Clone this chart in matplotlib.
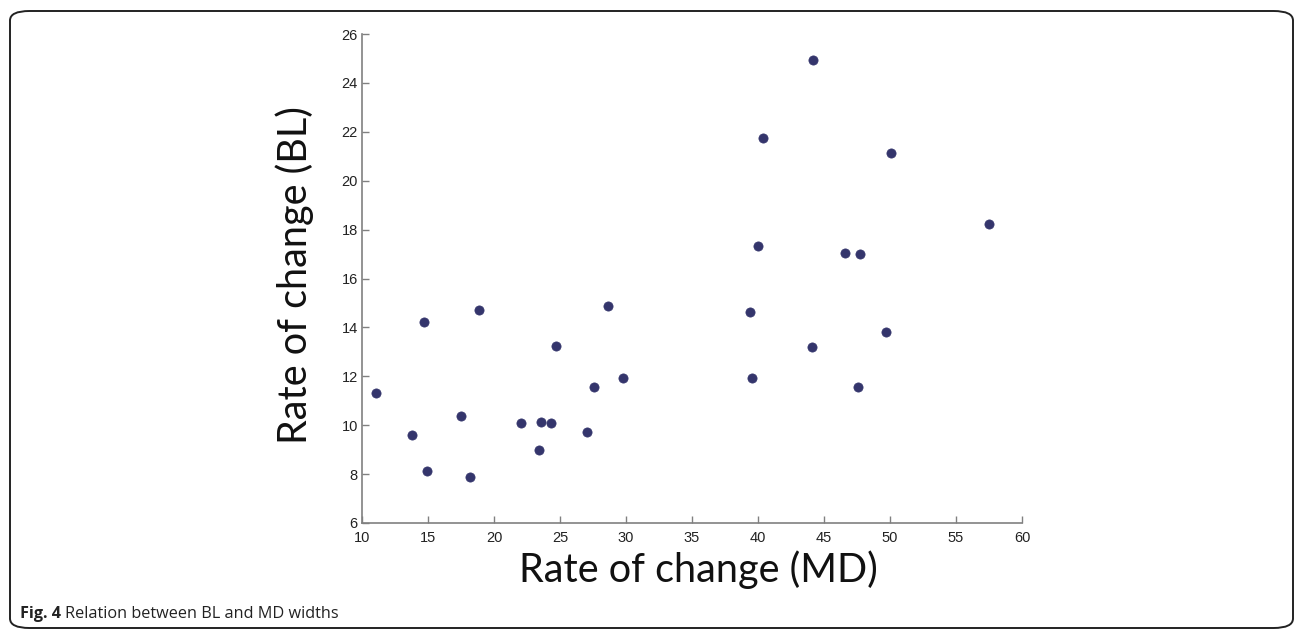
import matplotlib
matplotlib.use("Agg")
import matplotlib.pyplot as plt
from matplotlib.patches import FancyBboxPatch

# Data
md_rate = [11.06, 14.72, 18.89, 24.70, 28.64, 29.80, 27.58, 17.50, 13.81, 22.05,
           23.56, 24.32, 27.07, 23.41, 14.90, 18.16,
           44.14, 40.36, 50.10, 57.47, 40.00, 46.62, 47.76, 39.42, 44.12, 49.70,
           39.52, 47.55]
bl_rate = [11.32, 14.21, 14.71, 13.25, 14.89, 11.93, 11.56, 10.39, 9.60, 10.08,
           10.12, 10.10, 9.71, 8.99, 8.12, 7.90,
           24.95, 21.75, 21.15, 18.22, 17.32, 17.04, 17.01, 14.64, 13.20, 13.80,
           11.94, 11.56]
x_ticks = [10, 15, 20, 25, 30, 35, 40, 45, 50, 55, 60]
y_ticks = [6, 8, 10, 12, 14, 16, 18, 20, 22, 24, 26]

W, H = 1296, 634
fig = plt.figure(figsize=(W / 100, H / 100), dpi=100)
fig.patch.set_facecolor("white")

# Rounded border
border = FancyBboxPatch((10 / W, 6 / H), 1283 / W, 617 / H,
                        boxstyle="round,pad=0,rounding_size=0.015",
                        transform=fig.transFigure, fill=False,
                        edgecolor="#222222", linewidth=1.4)
fig.patches.append(border)

ax = fig.add_axes([362 / W, 1 - 523 / H, (1022 - 362) / W, (523 - 34) / H])
ax.scatter(md_rate, bl_rate, s=44, color="#34356c", edgecolors="#34356c",
           linewidths=0.5, zorder=3)
ax.set_xlim(10, 60)
ax.set_ylim(6, 26)
ax.set_xticks(x_ticks)
ax.set_yticks(y_ticks)
ax.set_xticklabels([str(t) for t in x_ticks], fontfamily="Liberation Sans", fontsize=10.5, color="#222222")
ax.set_yticklabels([str(t) for t in y_ticks], fontfamily="Liberation Sans", fontsize=10.5, color="#222222")
for s in ["top", "right"]:
    ax.spines[s].set_visible(False)
for s in ["left", "bottom"]:
    ax.spines[s].set_color("#808080")
    ax.spines[s].set_linewidth(1.2)
ax.tick_params(direction="in", length=5, width=1, color="#808080")
ax.tick_params(axis="x", pad=6)
ax.tick_params(axis="y", pad=3)

ax.set_xlabel("Rate of change (MD)", fontfamily="Lato", fontsize=28.5, color="#111111")
ax.xaxis.set_label_coords(0.51, -0.056)
ax.set_ylabel("Rate of change (BL)", fontfamily="Lato", fontsize=28.5, color="#111111")
ax.yaxis.set_label_coords(-0.072, 0.507)

# Caption
renderer = fig.canvas.get_renderer()
t1 = fig.text(20 / W, 1 - 618 / H, "Fig. 4", fontfamily="Open Sans", fontweight="bold",
              fontsize=11.7, color="#222222", va="baseline")
bb = t1.get_window_extent(renderer=renderer)
fig.text((bb.x1 + 4) / W, 1 - 618 / H, "Relation between BL and MD widths",
         fontfamily="Open Sans", fontsize=11.7, color="#222222", va="baseline")

fig.savefig("out.png", dpi=100, facecolor="white")
